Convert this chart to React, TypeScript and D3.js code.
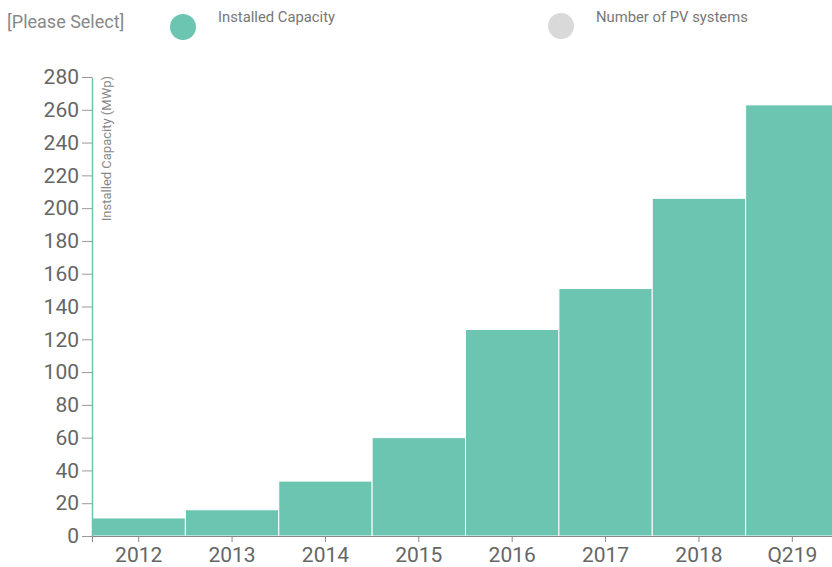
import React, { useEffect, useRef } from "react";
import * as d3 from "d3";

const categories = ["2012", "2013", "2014", "2015", "2016", "2017", "2018", "Q219"];
const capacity = [11, 16, 33.5, 60, 126, 151, 206, 263];
const yTicks = [0, 20, 40, 60, 80, 100, 120, 140, 160, 180, 200, 220, 240, 260, 280];

const W = 832;
const H = 567;
const TEAL = "#6cc5b1";

export default function App() {
  const ref = useRef<SVGSVGElement>(null);
  useEffect(() => {
    const svg = d3.select(ref.current);
    svg.selectAll("*").remove();
    const x0 = 92, x1 = 839, y0 = 536, y1 = 77;
    const x = d3.scaleBand().domain(categories).range([x0, x1]).padding(0);
    const y = d3.scaleLinear().domain([0, 280]).range([y0, y1]);
    const font = "Roboto, sans-serif";

    // legend
    svg.append("text").attr("x", 7).attr("y", 28).text("[Please Select]")
      .attr("font-family", font).attr("font-size", 18).attr("fill", "#888");
    svg.append("circle").attr("cx", 183).attr("cy", 27).attr("r", 13).attr("fill", TEAL);
    svg.append("text").attr("x", 218).attr("y", 22).text("Installed Capacity")
      .attr("font-family", font).attr("font-size", 14.8).attr("fill", "#777");
    svg.append("circle").attr("cx", 561).attr("cy", 26).attr("r", 13).attr("fill", "#d9d9d9");
    svg.append("text").attr("x", 596).attr("y", 22).text("Number of PV systems")
      .attr("font-family", font).attr("font-size", 14.8).attr("fill", "#777");

    // bars
    svg.append("g").selectAll("rect").data(categories).join("rect")
      .attr("x", (d) => x(d)!)
      .attr("width", x.bandwidth())
      .attr("y", (_d, i) => y(capacity[i]))
      .attr("height", (_d, i) => y0 - y(capacity[i]))
      .attr("fill", TEAL)
      .attr("stroke", "#fff")
      .attr("stroke-width", 1);

    // y axis
    const ya = svg.append("g").attr("transform", `translate(${x0},0)`)
      .call(d3.axisLeft(y).tickValues(yTicks).tickSize(10).tickSizeOuter(0));
    ya.select(".domain").attr("stroke", TEAL).attr("stroke-width", 1.5);
    ya.selectAll(".tick line").attr("stroke", "#999");
    ya.selectAll(".tick text").attr("font-family", font).attr("font-size", 21)
      .attr("fill", "#666").attr("x", -13);

    // x axis
    const xa = svg.append("g").attr("transform", `translate(0,${y0})`)
      .call(d3.axisBottom(x).tickSize(6).tickSizeOuter(6));
    xa.select(".domain").attr("stroke", "#888");
    xa.selectAll(".tick line").attr("stroke", "#888");
    xa.selectAll(".tick text").attr("font-family", font).attr("font-size", 21)
      .attr("fill", "#666").attr("y", 10).attr("dy", "0.76em");

    // y title
    svg.append("text")
      .attr("transform", `translate(111,${y1 - 1}) rotate(-90)`)
      .attr("text-anchor", "end")
      .attr("font-family", font).attr("font-size", 13).attr("fill", "#888")
      .text("Installed Capacity (MWp)");
  }, []);
  return (
    <svg ref={ref} width={W} height={H}
      style={{ position: "absolute", left: 0, top: 0, background: "#fff" }} />
  );
}
